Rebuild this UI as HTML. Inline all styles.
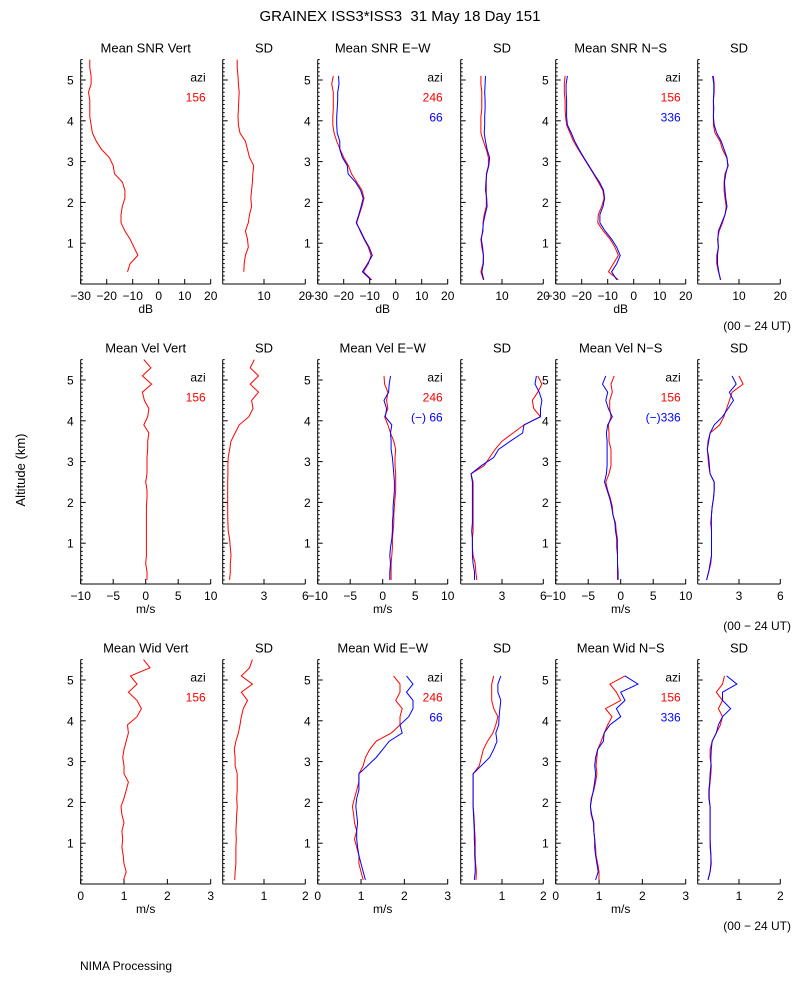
<!DOCTYPE html>
<html><head><meta charset="utf-8"><style>
html,body{margin:0;padding:0;background:#fff;}
svg{display:block;font-family:"Liberation Sans",sans-serif;}
</style></head><body>
<svg id="chart" width="800" height="1000" viewBox="0 0 800 1000">
<rect width="800" height="1000" fill="#fff"/>
<text x="400" y="21" font-size="15" text-anchor="middle">GRAINEX ISS3*ISS3 &#160;31 May 18 Day 151</text>
<text x="0" y="0" font-size="13" text-anchor="middle" transform="translate(25,470) rotate(-90)">Altitude (km)</text>
<text x="80" y="970" font-size="12">NIMA Processing</text>
</svg>
<script>
const ALT = [0.1,0.3,0.5,0.7,0.9,1.1,1.3,1.5,1.7,1.9,2.1,2.3,2.5,2.7,2.9,3.1,3.3,3.5,3.7,3.9,4.1,4.3,4.5,4.7,4.9,5.1,5.3,5.5];
const N = null;
// Row 1: SNR (dB)
const snrVert = [N,-12,-11,-8,-9.5,-11,-13,-14.5,-14.5,-14,-13,-13,-14,-17,-17.5,-19,-22,-24,-25.5,-26,-26.5,-26.5,-26.5,-27,-26,-26,-26.5,-26.5];
const snrVertSD = [N,5.1,5.2,5.5,6.2,6,5.5,6.2,6.5,7.0,6.8,7.0,7.2,7.3,7.5,6.5,6,5.5,4.2,3.8,3.7,3.8,3.9,4.0,3.8,3.7,3.5,3.5];
const snrEWred = [-9.2,-12.4,-10.5,-9.5,-10.5,-12.2,-13.7,-15,-14,-13,-12.2,-13,-15,-17,-18.2,-20,-21.4,-22.7,-23.7,-24.2,-24.2,-24,-24,-24,-24.6,-24,N,N];
const snrEWblue = [-9.5,-12.8,-10.8,-9,-10.2,-12,-13.5,-15.2,-14.2,-13.3,-12.5,-13.5,-15.5,-18.3,-18.6,-20.5,-21.5,-21.5,-22.5,-22.7,-22.7,-22.5,-22.3,-22.3,-21.8,-22,N,N];
const snrEWredSD = [5.5,4.9,5.4,5.5,5.1,4.9,5.4,5.4,5.7,6.2,6.2,6.2,6.2,6.2,6.7,6.7,6.2,5.5,4.9,4.9,4.9,5.1,5.1,5.1,4.9,4.9,N,N];
const snrEWblueSD = [5.6,5.1,5.5,5.5,5.3,5.0,5.3,5.5,5.9,6.4,6.3,6.0,6.1,6.3,6.8,7.0,6.4,6.0,5.7,5.8,5.8,5.9,5.9,5.8,5.9,6.0,N,N];
const snrNSred = [-5.9,-9.7,-7.8,-5.9,-7.2,-9.1,-11.7,-13.8,-13.6,-12.3,-11.4,-11.9,-13.6,-15.5,-17.4,-19.4,-21.3,-23.2,-24.5,-25.8,-26.2,-26.4,-26.4,-26.7,-26.7,-26.4,N,N];
const snrNSblue = [-6.5,-8.5,-6.5,-5.2,-6.5,-8.5,-11,-13,-13,-11.8,-11.2,-11.6,-13.2,-15.3,-17.2,-19.2,-21,-22.7,-24,-25.5,-25.8,-25.8,-25.8,-26,-26,-25.5,N,N];
const snrNSredSD = [5.6,5.0,4.6,4.6,5.0,4.8,5.2,6.0,6.6,6.9,6.6,6.4,6.4,6.6,7.4,7.0,6.0,5.4,4.2,3.8,3.8,3.8,3.8,4.0,4.0,3.8,N,N];
const snrNSblueSD = [5.5,5.1,4.8,4.8,5.0,4.9,5.0,5.8,6.6,7.1,6.8,6.6,6.5,6.8,7.3,7.1,6.4,5.7,4.6,4.0,3.8,3.9,3.8,3.9,3.9,3.6,N,N];
// Row 2: radial velocity (m/s)
const velVert = [0.2,0.2,0.0,0.1,0.1,0.1,0.1,0.1,0.1,0.1,0.2,0.2,0.0,0.2,0.2,0.2,0.3,0.3,0.5,-0.3,0.3,0.5,-0.2,-0.5,0.9,-0.5,0.8,-0.3];
const velVertSD = [0.5,0.55,0.55,0.6,0.55,0.5,0.4,0.38,0.36,0.36,0.36,0.36,0.36,0.38,0.38,0.4,0.5,0.6,0.9,1.2,1.9,2.2,2.1,2.6,2.0,2.6,2.0,2.3];
const velEWred = [1.3,1.3,1.3,1.4,1.5,1.5,1.6,1.7,1.7,1.8,1.9,2.0,2.0,2.0,1.9,1.9,2.0,1.7,1.2,0.8,0.3,0.8,0.6,0.8,0.3,0.2,N,N];
const velEWblue = [1.1,1.1,1.2,1.1,1.2,1.4,1.5,1.5,1.6,1.6,1.7,1.8,1.8,1.7,1.6,1.5,1.3,1.3,1.2,1.4,0.4,0.6,0.2,0.9,1.0,1.2,N,N];
const velEWredSD = [1.17,1.1,1.05,0.9,0.85,0.85,0.9,0.9,0.9,0.9,0.9,0.9,0.9,0.75,1.7,2.1,2.5,3.0,3.8,4.6,5.8,5.3,5.2,5.6,5.9,5.6,N,N];
const velEWblueSD = [1.0,1.0,0.9,0.85,0.85,0.85,0.8,0.85,0.85,0.85,0.85,0.85,0.85,0.75,1.5,2.4,2.75,3.6,4.5,4.6,5.8,5.8,5.9,5.7,5.4,5.5,N,N];
const velNSred = [-0.5,-0.5,-0.5,-0.5,-0.5,-0.5,-0.7,-0.8,-1.2,-1.3,-1.6,-2.0,-2.3,-1.8,-1.5,-1.5,-1.5,-1.8,-1.8,-1.9,-1.5,-1.7,-1.7,-1.3,-1.5,-1.0,N,N];
const velNSblue = [-0.4,-0.4,-0.5,-0.5,-0.6,-0.6,-0.8,-0.9,-1.2,-1.4,-1.7,-2.1,-2.5,-2.2,-2.1,-2.1,-2.1,-2.1,-2.2,-2.0,-1.3,-1.9,-2.3,-2.0,-2.8,-2.3,N,N];
const velNSredSD = [0.65,0.8,0.95,1.0,1.0,1.0,1.0,1.0,1.0,1.05,1.15,1.2,1.2,0.9,0.8,0.75,0.7,0.75,0.9,1.6,1.9,2.1,2.3,2.5,3.3,3.0,N,N];
const velNSblueSD = [0.65,0.8,0.9,1.0,1.0,1.0,1.0,0.95,1.0,1.05,1.15,1.2,1.2,0.9,0.85,0.8,0.7,0.8,0.9,1.2,1.8,2.2,2.6,2.3,2.8,2.5,N,N];
// Row 3: spectral width (m/s)
const widVert = [0.99,1.05,1.0,0.98,0.95,0.97,0.95,1.0,0.95,0.93,1.0,1.05,1.1,1.0,1.0,0.97,1.0,1.05,1.1,1.08,1.3,1.4,1.3,1.1,1.3,1.15,1.6,1.45];
const widVertSD = [0.29,0.3,0.32,0.32,0.32,0.33,0.32,0.33,0.34,0.35,0.34,0.35,0.35,0.35,0.3,0.3,0.28,0.32,0.38,0.42,0.45,0.5,0.6,0.45,0.72,0.45,0.65,0.72];
const widEWred = [1.05,1.0,0.95,0.95,0.9,0.85,0.9,0.85,0.83,0.8,0.85,0.9,0.95,0.95,1.05,1.1,1.2,1.35,1.7,1.9,1.9,1.95,1.8,1.9,1.9,1.75,N,N];
const widEWblue = [1.1,1.05,1.0,0.95,0.92,0.9,0.9,0.92,0.9,0.88,0.9,0.95,0.95,0.95,1.15,1.35,1.5,1.65,1.95,1.9,2.1,2.2,2.2,2.05,2.2,2.05,N,N];
const widEWredSD = [0.37,0.38,0.36,0.35,0.35,0.35,0.34,0.33,0.32,0.3,0.3,0.3,0.3,0.3,0.45,0.5,0.55,0.65,0.78,0.85,0.9,0.8,0.75,0.75,0.75,0.8,N,N];
const widEWblueSD = [0.33,0.35,0.35,0.34,0.34,0.33,0.33,0.32,0.31,0.3,0.3,0.3,0.3,0.3,0.5,0.7,0.8,0.88,0.85,0.92,0.93,0.95,0.97,0.9,0.9,0.97,N,N];
const widNSred = [1.0,1.0,0.97,0.93,0.92,0.9,0.88,0.87,0.82,0.8,0.82,0.88,0.92,0.95,0.93,0.95,0.97,1.05,1.12,1.2,1.3,1.15,1.5,1.4,1.25,1.6,N,N];
const widNSblue = [0.92,0.98,0.95,0.92,0.9,0.9,0.88,0.88,0.83,0.8,0.83,0.87,0.9,0.92,0.9,0.92,0.97,1.1,1.12,1.25,1.5,1.4,1.6,1.5,1.9,1.6,N,N];
const widNSredSD = [0.25,0.3,0.33,0.32,0.3,0.3,0.3,0.3,0.3,0.3,0.28,0.28,0.3,0.32,0.33,0.3,0.3,0.35,0.45,0.55,0.6,0.5,0.6,0.45,0.6,0.65,N,N];
const widNSblueSD = [0.25,0.3,0.32,0.32,0.31,0.3,0.3,0.3,0.3,0.3,0.27,0.27,0.29,0.3,0.32,0.32,0.33,0.35,0.45,0.5,0.6,0.8,0.6,0.6,0.95,0.7,N,N];

const RED = '#ff0000', BLUE = '#0000ff';
const LEFTS = [80.7, 222.7, 317.7, 460.7, 555.7, 697.7];
const WIDE = 130, NARROW = 82.6;
const ROW_BASE = [284, 584, 884];
const KM = 40.8, ALT_TOP = 5.5;
const svg = document.getElementById('chart');
const NS = 'http://www.w3.org/2000/svg';
function mk(tag, attrs, parent) {
  const e = document.createElementNS(NS, tag);
  for (const k in attrs) e.setAttribute(k, attrs[k]);
  (parent || svg).appendChild(e);
  return e;
}
function txt(x, y, s, size, anchor, fill, parent) {
  const t = mk('text', {x: x, y: y, 'font-size': size, 'text-anchor': anchor || 'middle', fill: fill || '#000'}, parent);
  t.textContent = s;
  return t;
}

const rows = [
  {title: ['Mean SNR Vert','SD','Mean SNR E\u2212W','SD','Mean SNR N\u2212S','SD'], unit: 'dB',
   wide: {min: -30, max: 20, ticks: [-30,-20,-10,0,10,20], labels: ['\u221230','\u221220','\u221210','0','10','20']},
   narrow: {min: 0, max: 20, ticks: [10,20], labels: ['10','20']},
   legends: [['156'], ['246','66'], ['156','336']],
   data: [[[snrVert]], [[snrVertSD]], [[snrEWred, snrEWblue]], [[snrEWredSD, snrEWblueSD]], [[snrNSred, snrNSblue]], [[snrNSredSD, snrNSblueSD]]]},
  {title: ['Mean Vel Vert','SD','Mean Vel E\u2212W','SD','Mean Vel N\u2212S','SD'], unit: 'm/s',
   wide: {min: -10, max: 10, ticks: [-10,-5,0,5,10], labels: ['\u221210','\u22125','0','5','10']},
   narrow: {min: 0, max: 6, ticks: [3,6], labels: ['3','6']},
   legends: [['156'], ['246','(\u2212) 66'], ['156','(\u2212)336']],
   data: [[[velVert]], [[velVertSD]], [[velEWred, velEWblue]], [[velEWredSD, velEWblueSD]], [[velNSred, velNSblue]], [[velNSredSD, velNSblueSD]]]},
  {title: ['Mean Wid Vert','SD','Mean Wid E\u2212W','SD','Mean Wid N\u2212S','SD'], unit: 'm/s',
   wide: {min: 0, max: 3, ticks: [0,1,2,3], labels: ['0','1','2','3']},
   narrow: {min: 0, max: 2, ticks: [1,2], labels: ['1','2']},
   legends: [['156'], ['246','66'], ['156','336']],
   data: [[[widVert]], [[widVertSD]], [[widEWred, widEWblue]], [[widEWredSD, widEWblueSD]], [[widNSred, widNSblue]], [[widNSredSD, widNSblueSD]]]}
];

rows.forEach((row, ri) => {
  const base = ROW_BASE[ri];
  const yOf = a => base - a * KM;
  const top = yOf(ALT_TOP);
  for (let pi = 0; pi < 6; pi++) {
    const isWide = pi % 2 === 0;
    const left = LEFTS[pi], w = isWide ? WIDE : NARROW;
    const ax = isWide ? row.wide : row.narrow;
    const xOf = v => left + (v - ax.min) / (ax.max - ax.min) * w;
    const g = mk('g', {});
    
    
    const tt = txt(left + w/2, top - 7, row.title[pi], 13, 'middle', '#000', g);
    
    
    const ya = mk('line', {x1: left, y1: top, x2: left, y2: base, stroke: '#000', 'stroke-width': 1}, g);
    
    
    const xa = mk('line', {x1: left, y1: base, x2: left + w, y2: base, stroke: '#000', 'stroke-width': 1}, g);
    
    
    for (let k = 1; k <= 55; k++) {
      const a = k / 10, y = yOf(a);
      const major = k % 10 === 0;
      mk('line', {x1: left, y1: y, x2: left + (major ? 5 : 2), y2: y, stroke: '#000', 'stroke-width': 1}, g);
      if (major && isWide) {
        const yl = txt(left - 7, y + 4.5, String(k/10), 12, 'end', '#000', g);
        
        
      }
    }
    ax.ticks.forEach((v, ti) => {
      const x = xOf(v);
      mk('line', {x1: x, y1: base, x2: x, y2: base - 5, stroke: '#000', 'stroke-width': 1}, g);
      const xl = txt(x, base + 16, ax.labels[ti], 12, 'middle', '#000', g);
      
      
    });
    if (isWide) {
      const ul = txt(left + w/2, base + 29, row.unit, 12, 'middle', '#000', g);
      
      
      const lg = row.legends[pi/2];
      const lt = txt(left + w - 5, top + 22, 'azi', 12, 'end', '#000', g);
      
      
      lg.forEach((s, li) => {
        const le = txt(left + w - 5, top + 42 + li * 20, s, 12, 'end', li === 0 ? RED : BLUE, g);
        
        
      });
    }
    const series = row.data[pi][0];
    series.forEach((vals, si) => {
      let d = '';
      vals.forEach((v, i) => {
        if (v === null) return;
        d += (d ? 'L' : 'M') + xOf(v).toFixed(1) + ' ' + yOf(ALT[i]).toFixed(1);
      });
      const p = mk('path', {d: d, fill: 'none', stroke: si === 0 ? RED : BLUE, 'stroke-width': 1}, g);
      
      
    });
  }
  const ut = txt(791, base + 46, '(00 \u2212 24 UT)', 12, 'end', '#000');
  
  
});
</script>
</body></html>
